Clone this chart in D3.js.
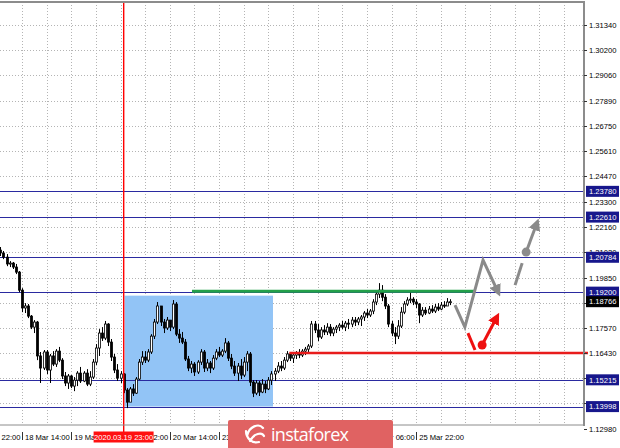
<!DOCTYPE html>
<html><head><meta charset="utf-8">
<script src="https://cdn.jsdelivr.net/npm/d3@7"></script>
<style>html,body{margin:0;padding:0;background:#fff;overflow:hidden}</style>
</head><body>
<svg id="c" width="620" height="448"></svg>
<script>
// ---------- data (EURUSD H1) ----------
const firstOpen = 1.2111;
const closeP = [1.2098,1.2079,1.2048,1.2052,1.2034,1.2011,1.1929,1.1848,1.1857,1.1811,
1.1761,1.1784,1.1630,1.1575,1.1648,1.1566,1.1630,1.1593,1.1652,1.1611,
1.1539,1.1507,1.1539,1.1493,1.1520,1.1552,1.1516,1.1552,1.1502,1.1534,
1.1602,1.1666,1.1734,1.1711,1.1775,1.1693,1.1625,1.1566,1.1529,1.1548,
1.1475,1.1420,1.1480,1.1461,1.1525,1.1602,1.1625,1.1611,1.1648,1.1720,
1.1784,1.1857,1.1784,1.1757,1.1793,1.1761,1.1866,1.1729,1.1711,1.1693,
1.1616,1.1575,1.1593,1.1557,1.1602,1.1648,1.1575,1.1598,1.1575,1.1620,
1.1648,1.1634,1.1652,1.1689,1.1620,1.1584,1.1552,1.1584,1.1543,1.1602,
1.1639,1.1511,1.1461,1.1507,1.1466,1.1502,1.1480,1.1520,1.1548,1.1561,
1.1584,1.1575,1.1611,1.1639,1.1620,1.1634,1.1643,1.1634,1.1652,1.1661,
1.1675,1.1775,1.1748,1.1716,1.1748,1.1739,1.1761,1.1734,1.1752,1.1761,
1.1770,1.1761,1.1779,1.1775,1.1793,1.1784,1.1798,1.1807,1.1825,1.1816,
1.1834,1.1875,1.1911,1.1929,1.1897,1.1857,1.1775,1.1734,1.1720,1.1766,
1.1829,1.1866,1.1884,1.1888,1.1875,1.1866,1.1816,1.1838,1.1825,1.1843,
1.1834,1.1852,1.1843,1.1861,1.1857,1.1875,1.18766];
const highP = [1.2125,1.2107,1.2093,1.2061,1.2057,1.2048,1.2016,1.1938,1.1870,1.1866,
1.1816,1.1793,1.1789,1.1648,1.1657,1.1657,1.1639,1.1652,1.1661,1.1671,
1.1620,1.1557,1.1548,1.1543,1.1534,1.1561,1.1580,1.1561,1.1570,1.1561,
1.1616,1.1684,1.1752,1.1761,1.1789,1.1779,1.1707,1.1639,1.1593,1.1561,
1.1552,1.1484,1.1489,1.1502,1.1534,1.1616,1.1652,1.1652,1.1661,1.1729,
1.1798,1.1875,1.1848,1.1798,1.1807,1.1789,1.1884,1.1875,1.1752,1.1739,
1.1707,1.1630,1.1607,1.1602,1.1611,1.1661,1.1657,1.1616,1.1607,1.1634,
1.1661,1.1671,1.1661,1.1711,1.1698,1.1639,1.1607,1.1598,1.1616,1.1625,
1.1652,1.1648,1.1520,1.1520,1.1516,1.1525,1.1516,1.1534,1.1561,1.1575,
1.1602,1.1607,1.1625,1.1652,1.1648,1.1643,1.1652,1.1661,1.1661,1.1671,
1.1684,1.1789,1.1789,1.1775,1.1761,1.1770,1.1779,1.1775,1.1761,1.1770,
1.1779,1.1789,1.1789,1.1798,1.1807,1.1807,1.1807,1.1816,1.1834,1.1843,
1.1843,1.1888,1.1925,1.1961,1.1952,1.1911,1.1866,1.1789,1.1761,1.1793,
1.1852,1.1879,1.1897,1.1920,1.1897,1.1888,1.1870,1.1852,1.1852,1.1857,
1.1861,1.1866,1.1870,1.1875,1.1879,1.1893,1.1888];
const lowP = [1.2084,1.2070,1.2038,1.2034,1.2025,1.2002,1.1920,1.1829,1.1825,1.1802,
1.1752,1.1734,1.1611,1.1507,1.1566,1.1548,1.1507,1.1584,1.1580,1.1602,
1.1525,1.1493,1.1480,1.1484,1.1470,1.1493,1.1507,1.1511,1.1493,1.1493,
1.1525,1.1589,1.1630,1.1698,1.1702,1.1675,1.1607,1.1552,1.1516,1.1507,
1.1461,1.1393,1.1429,1.1448,1.1457,1.1520,1.1589,1.1598,1.1602,1.1639,
1.1707,1.1775,1.1766,1.1734,1.1748,1.1743,1.1752,1.1720,1.1689,1.1684,
1.1607,1.1561,1.1552,1.1539,1.1548,1.1589,1.1557,1.1561,1.1552,1.1566,
1.1611,1.1625,1.1625,1.1643,1.1607,1.1570,1.1539,1.1516,1.1525,1.1534,
1.1561,1.1493,1.1443,1.1452,1.1448,1.1461,1.1461,1.1475,1.1498,1.1516,
1.1552,1.1561,1.1566,1.1602,1.1607,1.1598,1.1616,1.1620,1.1625,1.1634,
1.1648,1.1666,1.1734,1.1698,1.1707,1.1725,1.1725,1.1720,1.1720,1.1734,
1.1743,1.1752,1.1743,1.1752,1.1761,1.1766,1.1770,1.1766,1.1789,1.1802,
1.1807,1.1820,1.1861,1.1893,1.1879,1.1843,1.1761,1.1720,1.1684,1.1707,
1.1757,1.1820,1.1857,1.1870,1.1861,1.1848,1.1779,1.1807,1.1816,1.1820,
1.1825,1.1825,1.1834,1.1838,1.1848,1.1857,1.1861];

const priceTicks = [1.31340,1.30200,1.29060,1.27890,1.26750,1.25610,1.24470,1.23300,1.22160,
  1.21020,1.19850,1.18710,1.17570,1.16430,1.15290,1.14150,1.12980];
const timeTickIdx = [-9,7,23,39,55,71,87,103,119,135];
const timeTickLabels = ["17 Mar 22:00","18 Mar 14:00","19 Mar 06:00","19 Mar 22:00","20 Mar 14:00",
  "23 Mar 06:00","23 Mar 22:00","24 Mar 14:00","25 Mar 06:00","25 Mar 22:00"];
const gridIdxStart = 7, gridIdxStep = 8;

const blueLevels = [1.23780,1.22610,1.20784,1.19200,1.15215,1.13998];
const redLevel = 1.16430;
const redLevelIdx = [93.8, 200];
const greenLevel = 1.1924;
const greenIdx = [62.2, 154.1];
const lastPrice = 1.18766;
const markerIdx = 40;
const markerLabel = "2020.03.19 23:00";
const boxIdx = [40.3, 88.5];
const boxPrice = [1.1904, 1.1400];

const grayZigIdx = [147.6,150.8,156.7,161.6];
const grayZigP   = [1.1861,1.1761,1.2066,1.1920];
const grayDashIdx = [167.1,169.4];
const grayDashP   = [1.1952,1.2052];
const grayArrIdx = [170.7,174.2];
const grayArrP   = [1.2102,1.2234];
const redDashIdx = [151.8,154.1];
const redDashP   = [1.1734,1.1657];
const redArrIdx = [156.4,161.2];
const redArrP   = [1.1680,1.1807];

// ---------- drawing ----------
const W = 620, H = 448, PR = 584, PT = 2, PB = 425;
const LOGO = {x: 228, y: 420, w: 165, h: 30};
const FONT = "'Liberation Sans', Arial, sans-serif";
const svg = d3.select("#c");
const x = d3.scaleLinear().domain([-0.13, 189.48]).range([0, PR]);
const y = d3.scaleLinear().domain([1.31340, 1.12980]).range([25, 429]);

const openP = closeP.map((c, i) => i === 0 ? firstOpen : closeP[i - 1]);
const bars = closeP.map((c, i) => ({i, o: openP[i], h: highP[i], l: lowP[i], c}));

svg.append("rect").attr("width", W).attr("height", H).attr("fill", "#fff");
const defs = svg.append("defs");
defs.append("clipPath").attr("id", "plot")
  .append("rect").attr("x", 0).attr("y", PT).attr("width", PR).attr("height", PB - PT);
const g = svg.append("g").attr("clip-path", "url(#plot)");

// grid
const gridIdx = d3.range(gridIdxStart, 190, gridIdxStep);
g.selectAll(".vg").data(gridIdx).join("line")
  .attr("x1", d => Math.round(x(d)) + 0.5).attr("x2", d => Math.round(x(d)) + 0.5)
  .attr("y1", PT).attr("y2", PB)
  .attr("stroke", "#b4b4b4").attr("stroke-dasharray", "1,2");
g.selectAll(".hg").data(priceTicks).join("line")
  .attr("x1", 0).attr("x2", PR)
  .attr("y1", d => Math.round(y(d)) + 0.5).attr("y2", d => Math.round(y(d)) + 0.5)
  .attr("stroke", "#b4b4b4").attr("stroke-dasharray", "1,2");

// blue box
g.append("rect")
  .attr("x", x(boxIdx[0])).attr("y", y(boxPrice[0]))
  .attr("width", x(boxIdx[1]) - x(boxIdx[0])).attr("height", y(boxPrice[1]) - y(boxPrice[0]))
  .attr("fill", "#92c4f6");

// blue levels
g.selectAll(".bl").data(blueLevels).join("line")
  .attr("x1", 0).attr("x2", PR)
  .attr("y1", d => Math.round(y(d)) + 0.5).attr("y2", d => Math.round(y(d)) + 0.5)
  .attr("stroke", "#2a2aa0").attr("stroke-width", 1.2);

// candles
const cg = g.append("g");
cg.selectAll(".wick").data(bars).join("line")
  .attr("x1", d => Math.round(x(d.i)) + 0.5).attr("x2", d => Math.round(x(d.i)) + 0.5)
  .attr("y1", d => y(d.h)).attr("y2", d => y(d.l))
  .attr("stroke", "#000").attr("stroke-width", 1);
cg.selectAll(".body").data(bars).join("rect")
  .attr("x", d => Math.round(x(d.i)) - 0.5)
  .attr("y", d => y(Math.max(d.o, d.c)))
  .attr("width", 2)
  .attr("height", d => Math.max(1, Math.abs(y(d.o) - y(d.c))))
  .attr("fill", d => d.c >= d.o ? "#fff" : "#000")
  .attr("stroke", "#000").attr("stroke-width", 0.8);

// green level
g.append("line")
  .attr("x1", x(greenIdx[0])).attr("x2", x(greenIdx[1]))
  .attr("y1", y(greenLevel)).attr("y2", y(greenLevel))
  .attr("stroke", "#23a04a").attr("stroke-width", 3);

// red vertical marker
svg.append("rect")
  .attr("x", Math.round(x(markerIdx)) - 1).attr("y", PT)
  .attr("width", 1.4).attr("height", 432 - PT).attr("fill", "#ff0000");

// arrows
function marker(id, color) {
  defs.append("marker").attr("id", id).attr("viewBox", "0 0 10 10")
    .attr("refX", 6).attr("refY", 5).attr("markerWidth", 12).attr("markerHeight", 12)
    .attr("markerUnits", "userSpaceOnUse").attr("orient", "auto")
    .append("path").attr("d", "M0,0 L10,5 L0,10 z").attr("fill", color);
}
marker("ag", "#8a8a8a");
marker("ar", "#ee1111");
const ln = d3.line().x(d => x(d[0])).y(d => y(d[1]));
const zip = (a, b) => a.map((v, k) => [v, b[k]]);
const GRAY = "#8a8a8a", RED = "#ee1111";
svg.append("path").attr("d", ln(zip(grayZigIdx, grayZigP))).attr("fill", "none")
  .attr("stroke", GRAY).attr("stroke-width", 3).attr("stroke-linejoin", "miter")
  .attr("marker-end", "url(#ag)");
svg.append("path").attr("d", ln(zip(grayDashIdx, grayDashP))).attr("stroke", GRAY).attr("stroke-width", 3);
svg.append("path").attr("d", ln(zip(grayArrIdx, grayArrP))).attr("stroke", GRAY).attr("stroke-width", 3)
  .attr("marker-end", "url(#ag)");
svg.append("circle").attr("cx", x(grayArrIdx[0])).attr("cy", y(grayArrP[0])).attr("r", 4.5).attr("fill", GRAY);
svg.append("path").attr("d", ln(zip(redDashIdx, redDashP))).attr("stroke", RED).attr("stroke-width", 3);
svg.append("path").attr("d", ln(zip(redArrIdx, redArrP))).attr("stroke", RED).attr("stroke-width", 3)
  .attr("marker-end", "url(#ar)");
svg.append("circle").attr("cx", x(redArrIdx[0])).attr("cy", y(redArrP[0])).attr("r", 4.5).attr("fill", RED);

// red level
svg.append("line")
  .attr("x1", x(redLevelIdx[0])).attr("x2", 588)
  .attr("y1", y(redLevel)).attr("y2", y(redLevel))
  .attr("stroke", "#e81c1c").attr("stroke-width", 2.5);

// frame
svg.append("line").attr("x1", 0).attr("x2", PR + 1).attr("y1", PT).attr("y2", PT)
  .attr("stroke", "#8c8c8c").attr("stroke-width", 2);
svg.append("line").attr("x1", PR).attr("x2", PR).attr("y1", PT - 1).attr("y2", PB + 1)
  .attr("stroke", "#8c8c8c").attr("stroke-width", 2);
svg.append("line").attr("x1", 0).attr("x2", PR + 1).attr("y1", PB).attr("y2", PB)
  .attr("stroke", "#8c8c8c").attr("stroke-width", 1);

// price axis (labels fully hidden behind level boxes are not drawn)
const boxedY = blueLevels.concat([lastPrice]).map(v => y(v));
const visibleTicks = priceTicks.filter(p => boxedY.every(b => Math.abs(y(p) - b) > 4));
const ya = svg.append("g").attr("font-family", FONT).attr("font-size", 7.6).attr("fill", "#000");
ya.selectAll(".t").data(priceTicks).join("line")
  .attr("x1", PR).attr("x2", PR + 3)
  .attr("y1", d => Math.round(y(d)) + 0.5).attr("y2", d => Math.round(y(d)) + 0.5)
  .attr("stroke", "#333");
ya.selectAll(".l").data(visibleTicks).join("text")
  .attr("x", 589).attr("y", d => y(d) + 2.8).text(d => d.toFixed(5));
const bl = ya.selectAll(".bb").data(blueLevels).join("g");
bl.append("rect").attr("x", 586).attr("y", d => y(d) - 5.5).attr("width", 33).attr("height", 11)
  .attr("fill", "#17178c");
bl.append("text").attr("x", 589).attr("y", d => y(d) + 2.8).attr("fill", "#fff").text(d => d.toFixed(5));
ya.append("rect").attr("x", 586).attr("y", y(lastPrice) - 5.5).attr("width", 33).attr("height", 11)
  .attr("fill", "#000");
ya.append("text").attr("x", 589).attr("y", y(lastPrice) + 2.8).attr("fill", "#fff").text(lastPrice.toFixed(5));

// time axis (labels fully covered by the logo are not drawn)
const timeTicks = timeTickIdx.map((d, k) => ({i: d, label: timeTickLabels[k]}));
const shownTicks = timeTicks.filter(t => !(x(t.i) > LOGO.x && x(t.i) + 44 < LOGO.x + LOGO.w));
const xa = svg.append("g").attr("font-family", FONT).attr("font-size", 7.6).attr("fill", "#000");
xa.selectAll(".t").data(timeTicks).join("line")
  .attr("x1", d => Math.round(x(d.i)) + 0.5).attr("x2", d => Math.round(x(d.i)) + 0.5)
  .attr("y1", 432).attr("y2", 440).attr("stroke", "#333");
xa.selectAll(".l").data(shownTicks).join("text")
  .attr("x", d => x(d.i) + 3).attr("y", 439.5).text(d => d.label);
xa.append("rect").attr("x", x(markerIdx) - 30).attr("y", 431.5).attr("width", 60).attr("height", 11)
  .attr("fill", "#ff1010");
xa.append("text").attr("x", x(markerIdx)).attr("y", 439.5).attr("text-anchor", "middle")
  .attr("fill", "#fff").text(markerLabel);

// logo
const lg = svg.append("g");
lg.append("rect").attr("x", LOGO.x).attr("y", LOGO.y).attr("width", LOGO.w).attr("height", LOGO.h).attr("rx", 2)
  .attr("fill", "#e06262");
lg.append("path").attr("d", "M247,436 C249,426 259,423 263,428 M250,441 C254,433 262,432 264,436 M246,431 C246,438 252,444 259,442")
  .attr("fill", "none").attr("stroke", "#fff").attr("stroke-width", 2.2).attr("stroke-linecap", "round");
lg.append("text").attr("x", 271).attr("y", 441).attr("font-family", "'Open Sans', Arial, sans-serif")
  .attr("font-size", 18).attr("fill", "#fff").attr("textLength", 78).text("instaforex");
</script>
</body></html>
